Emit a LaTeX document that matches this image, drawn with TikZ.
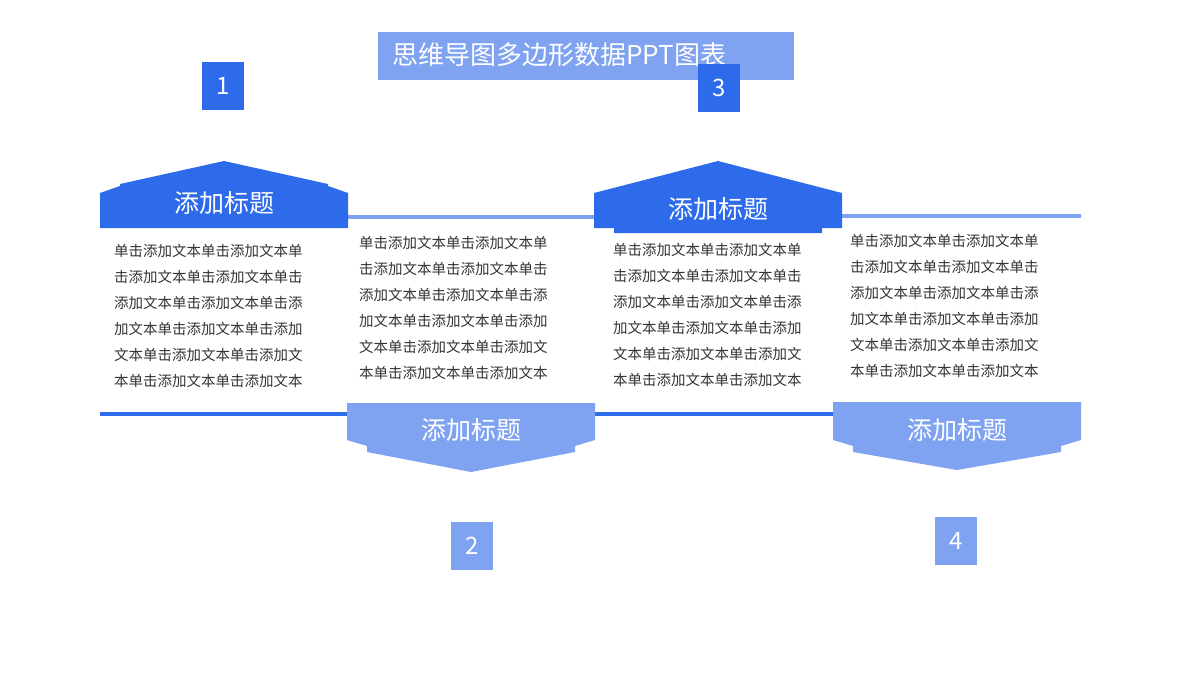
\documentclass[tikz,border=0pt]{standalone}
\usepackage{fontspec}
\setmainfont{Noto Sans CJK SC}
\begin{document}
\begin{tikzpicture}[x=1pt,y=-1pt,
  dk/.style={fill=dkc,draw=none},
  lt/.style={fill=ltc,draw=none},
  hd/.style={text=white,font=\fontsize{25}{25}\selectfont,inner sep=0},
  num/.style={text=white,font=\fontsize{24}{24}\selectfont,inner sep=0,minimum width=42pt,minimum height=48pt},
  body/.style={text=black!80,font=\fontsize{14.5}{26}\selectfont,align=left,inner sep=0,anchor=north west}]
\definecolor{dkc}{HTML}{2E6BEA}
\definecolor{ltc}{HTML}{7FA3F1}
\useasboundingbox (0,0) rectangle (1200,675);
% title
\node[lt,minimum width=416pt,minimum height=48pt,inner sep=0] (title) at (586,56) {};
\node[text=white,font=\fontsize{26}{26}\selectfont,anchor=west,inner sep=0] (tt) at (392,55) {思维导图多边形数据PPT图表};
% lines
\draw[ltc,line width=4pt] (348,217) -- (594,217);
\draw[ltc,line width=4pt] (842,216) -- (1081,216);
\draw[dkc,line width=4pt] (100,414) -- (347,414);
\draw[dkc,line width=4pt] (595,414) -- (833,414);
% shapes
\fill[dkc] (100,228) -- (100,193) -- (120,186) -- (120,184) -- (224,161) -- (328,184) -- (328,186) -- (348,193) -- (348,228) -- cycle;
\fill[dkc] (594,228) -- (594,193) -- (718,161) -- (842,193) -- (842,228) -- (822,228) -- (822,233) -- (614,233) -- (614,228) -- cycle;
\fill[ltc] (347,403) -- (595,403) -- (595,440) -- (575,446) -- (575,452) -- (471,472) -- (367,452) -- (367,446) -- (347,440) -- cycle;
\fill[ltc] (833,402) -- (1081,402) -- (1081,440) -- (1061,446) -- (1061,452) -- (957,470) -- (853,452) -- (853,446) -- (833,440) -- cycle;
\node[hd] (h1) at (224,203) {添加标题};
\node[hd] (h3) at (718,209) {添加标题};
\node[hd] (h2) at (471,430) {添加标题};
\node[hd] (h4) at (957,430) {添加标题};
% numbers
\node[num,fill=dkc] (n1) at (223,86) {1};
\node[num,fill=dkc] (n3) at (719,88) {3};
\node[num,fill=ltc] (n2) at (472,546) {2};
\node[num,fill=ltc] (n4) at (956,541) {4};
% body
\newcommand{\bodytext}{单击添加文本单击添加文本单\\击添加文本单击添加文本单击\\添加文本单击添加文本单击添\\加文本单击添加文本单击添加\\文本单击添加文本单击添加文\\本单击添加文本单击添加文本}
\node[body] (b1) at (114,244) {\bodytext};
\node[body] (b2) at (359,236) {\bodytext};
\node[body] (b3) at (613,243) {\bodytext};
\node[body] (b4) at (850,234) {\bodytext};
\end{tikzpicture}
\end{document}
